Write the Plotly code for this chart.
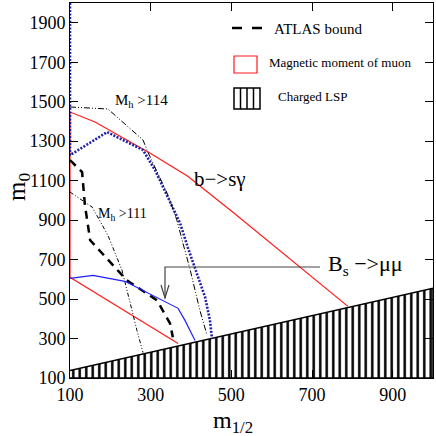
import plotly.graph_objects as go

# ---- data ----
lsp_x = [100, 1000]
lsp_y = [138, 555]

muon_upper_x = [100, 162, 298, 392, 504, 663, 789]
muon_upper_y = [1448, 1397, 1240, 1122, 940, 676, 463]
muon_left_x = [100, 100]
muon_left_y = [610, 1448]
muon_lower_x = [100, 368]
muon_lower_y = [610, 275]

bsg_x = [100, 100, 192, 281, 311, 335, 373, 392, 410, 435, 447, 452]
bsg_y = [2000, 1229, 1346, 1255, 1153, 1052, 884, 762, 656, 509, 392, 300]

mh114_x = [100, 194, 281, 293, 343, 365, 380, 397, 422, 440]
mh114_y = [1473, 1463, 1306, 1245, 1026, 900, 783, 656, 443, 316]

mh111_x = [100, 155, 194, 229, 266, 281]
mh111_y = [1042, 966, 823, 646, 341, 229]

atlas_x = [100, 130, 137, 150, 241, 316, 348, 355]
atlas_y = [1204, 1143, 976, 798, 595, 493, 377, 306]

bsmm_x = [100, 157, 236, 368, 385, 410]
bsmm_y = [605, 620, 590, 453, 392, 290]

x_ticks = [100, 300, 500, 700, 900]
y_ticks = [100, 300, 500, 700, 900, 1100, 1300, 1500, 1700, 1900]

FONT = "Liberation Serif"

fig = go.Figure()

# Charged LSP hatched region
fig.add_trace(go.Scatter(
    x=lsp_x + [lsp_x[-1], lsp_x[0]], y=lsp_y + [100, 100],
    mode="lines", fill="toself", fillcolor="white",
    fillpattern=dict(shape="|", fgcolor="black", bgcolor="white", fgopacity=1,
                     size=6.5, solidity=0.38),
    line=dict(color="black", width=1.5), hoverinfo="skip"))

# magnetic moment of muon (red)
for xs, ys in [(muon_upper_x, muon_upper_y), (muon_left_x, muon_left_y), (muon_lower_x, muon_lower_y)]:
    fig.add_trace(go.Scatter(x=xs, y=ys, mode="lines", line=dict(color="#ff1a1a", width=1.2)))

# b -> s gamma (blue dotted)
fig.add_trace(go.Scatter(x=bsg_x, y=bsg_y, mode="lines",
                         line=dict(color="#2020a8", width=2.6, dash="2px,1.5px")))

# Mh > 114 and Mh > 111 (thin dash-dot)
fig.add_trace(go.Scatter(x=mh114_x, y=mh114_y, mode="lines",
                         line=dict(color="black", width=1, dash="6px,2px,1px,2px,1px,2px")))
fig.add_trace(go.Scatter(x=mh111_x, y=mh111_y, mode="lines",
                         line=dict(color="black", width=1, dash="4px,2px,1px,2px,1px,2px")))

# ATLAS bound (thick dashed)
fig.add_trace(go.Scatter(x=atlas_x, y=atlas_y, mode="lines",
                         line=dict(color="black", width=2.5, dash="8px,6px")))

# Bs -> mu mu (blue solid)
fig.add_trace(go.Scatter(x=bsmm_x, y=bsmm_y, mode="lines",
                         line=dict(color="#1f1fff", width=1.2)))

# helpers for pixel -> paper
L, R, T, B = 70, 3, 3, 58
W = H = 436
PW, PH = W - L - R, H - T - B
def xp(px):
    return (px - L) / PW
def yp(py):
    return (H - B - py) / PH

shapes = []
# Legend swatches
shapes.append(dict(type="line", xref="paper", yref="paper", x0=xp(232), x1=xp(242), y0=yp(28), y1=yp(28),
                   line=dict(color="black", width=2.5)))
shapes.append(dict(type="line", xref="paper", yref="paper", x0=xp(252), x1=xp(262), y0=yp(28), y1=yp(28),
                   line=dict(color="black", width=2.5)))
shapes.append(dict(type="rect", xref="paper", yref="paper", x0=xp(234), x1=xp(257), y0=yp(73), y1=yp(56),
                   line=dict(color="#ff1a1a", width=1.2)))
shapes.append(dict(type="rect", xref="paper", yref="paper", x0=xp(234), x1=xp(260), y0=yp(109), y1=yp(88),
                   line=dict(color="black", width=1.5)))
for hx in [240.5, 247, 253.5]:
    shapes.append(dict(type="line", xref="paper", yref="paper", x0=xp(hx), x1=xp(hx), y0=yp(109), y1=yp(88),
                       line=dict(color="black", width=1.5)))
# Bs -> mu mu pointer
shapes.append(dict(type="path", xref="paper", yref="paper",
                   path=f"M {xp(320)},{yp(267)} L {xp(165)},{yp(267)} L {xp(165)},{yp(298)}",
                   line=dict(color="#444444", width=1.2)))
shapes.append(dict(type="path", xref="paper", yref="paper",
                   path=f"M {xp(161)},{yp(285)} L {xp(165)},{yp(298)} L {xp(169)},{yp(285)}",
                   line=dict(color="#444444", width=1.2)))

annotations = [
    dict(text="ATLAS bound", x=xp(272), y=yp(29), xref="paper", yref="paper", xanchor="left", yanchor="middle",
         showarrow=False, font=dict(family=FONT, size=15, color="black")),
    dict(text="Magnetic moment of muon", x=xp(267), y=yp(62), xref="paper", yref="paper", xanchor="left",
         yanchor="middle", showarrow=False, font=dict(family=FONT, size=13, color="black")),
    dict(text="Charged LSP", x=xp(276), y=yp(96), xref="paper", yref="paper", xanchor="left", yanchor="middle",
         showarrow=False, font=dict(family=FONT, size=13, color="black")),
    dict(text="M<sub>h</sub> >114", x=xp(113), y=yp(101), xref="paper", yref="paper", xanchor="left",
         yanchor="middle", showarrow=False, font=dict(family=FONT, size=15, color="black")),
    dict(text="M<sub>h</sub> >111", x=xp(96), y=yp(214), xref="paper", yref="paper", xanchor="left",
         yanchor="middle", showarrow=False, font=dict(family=FONT, size=14, color="black")),
    dict(text="b−>sγ", x=xp(192), y=yp(179), xref="paper", yref="paper", xanchor="left",
         yanchor="middle", showarrow=False, font=dict(family=FONT, size=21, color="black")),
    dict(text="B<sub>s</sub> −>μμ", x=xp(326), y=yp(265), xref="paper", yref="paper", xanchor="left",
         yanchor="middle", showarrow=False, font=dict(family=FONT, size=22, color="black")),
    dict(text="m<sub>1/2</sub>", x=xp(233), y=yp(422), xref="paper", yref="paper", xanchor="center",
         yanchor="middle", showarrow=False, font=dict(family=FONT, size=24, color="black")),
    dict(text="m<sub>0</sub>", x=xp(18), y=yp(187), xref="paper", yref="paper", xanchor="center",
         yanchor="middle", showarrow=False, textangle=-90, font=dict(family=FONT, size=25, color="black")),
]

axis_common = dict(showline=True, linecolor="black", linewidth=1, mirror="ticks", ticks="inside",
                   ticklen=8, tickcolor="black", tickwidth=1, showgrid=False, zeroline=False,
                   tickfont=dict(family=FONT, size=18, color="black"))

fig.update_layout(
    width=W, height=H, margin=dict(l=L, r=R, t=T, b=B),
    paper_bgcolor="white", plot_bgcolor="white", showlegend=False,
    xaxis=dict(range=[100, 1000], tickvals=x_ticks, ticktext=[str(v) for v in x_ticks], **axis_common),
    yaxis=dict(range=[100, 2000], tickvals=y_ticks, ticktext=[str(v) for v in y_ticks], **axis_common),
    shapes=shapes, annotations=annotations,
)

fig.write_html("out.html", config={"displayModeBar": False},
               post_script="document.body.style.margin='0px';document.body.style.padding='0px';")
